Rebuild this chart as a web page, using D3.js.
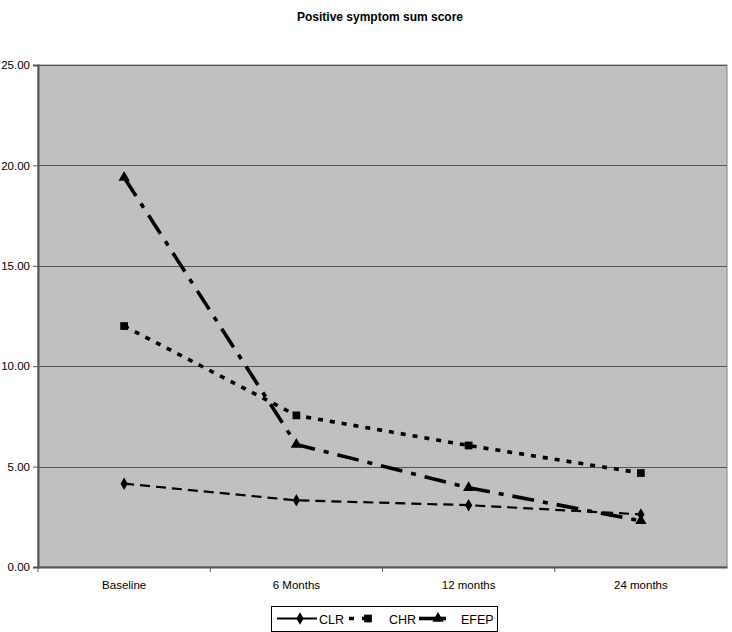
<!DOCTYPE html>
<html>
<head>
<meta charset="utf-8">
<script src="https://cdn.jsdelivr.net/npm/d3@7"></script>
<style>
  body { margin: 0; background: #fff; }
  text { font-family: "Liberation Sans", Arial, sans-serif; }
</style>
</head>
<body>
<svg id="chart" width="732" height="632"></svg>
<script>
const categories = ["Baseline", "6 Months", "12 months", "24 months"];
const clr = [4.15, 3.32, 3.08, 2.62];
const chr = [12.0, 7.55, 6.05, 4.68];
const efep = [19.4, 6.1, 3.95, 2.3];
const yTicks = [0, 5, 10, 15, 20, 25];

const series = [
  { name: "CLR", values: clr, dash: "10,6", width: 2.2, symbol: d3.symbolDiamond, size: 45,
    lg: { x1: 6, x2: 46, dash: null, mark: 29, text: 48 } },
  { name: "CHR", values: chr, dash: "5,7", width: 3.6, symbol: d3.symbolSquare, size: 60,
    lg: { x1: 78, x2: 104, dash: "5,8", mark: 97, text: 118 } },
  { name: "EFEP", values: efep, dash: "22,9,5,9", width: 3.6, symbol: d3.symbolTriangle, size: 55,
    lg: { x1: 148, x2: 175, dash: null, mark: 167, text: 190 } }
];

const svg = d3.select("#chart");
const margin = { left: 38, right: 5, top: 65, bottom: 65 };
const width = 732, height = 632;

const x = d3.scaleBand().domain(categories)
  .range([margin.left, width - margin.right]);
const y = d3.scaleLinear().domain([0, 25])
  .range([height - margin.bottom, margin.top]);

// title
svg.append("text")
  .attr("x", 380).attr("y", 21)
  .attr("text-anchor", "middle")
  .style("font-size", "12px").style("font-weight", "bold")
  .text("Positive symptom sum score");

// plot area
svg.append("rect")
  .attr("x", margin.left).attr("y", margin.top)
  .attr("width", width - margin.left - margin.right)
  .attr("height", y(0) - y(25))
  .attr("fill", "#c0c0c0")
  .attr("stroke", "#808080").attr("stroke-width", 1);

// gridlines
svg.append("g").selectAll("line")
  .data(yTicks.filter(d => d > 0))
  .join("line")
  .attr("x1", margin.left).attr("x2", width - margin.right)
  .attr("y1", d => Math.round(y(d)) + 0.5).attr("y2", d => Math.round(y(d)) + 0.5)
  .attr("stroke", "#555").attr("stroke-width", 1);

// y axis
const yAxis = svg.append("g")
  .attr("transform", `translate(${margin.left},0)`)
  .call(d3.axisLeft(y).tickValues(yTicks).tickFormat(d3.format(".2f")).tickSize(5).tickPadding(3));
yAxis.select(".domain").attr("stroke", "#555").attr("stroke-width", 2);
yAxis.selectAll(".tick line").attr("stroke", "#555");
yAxis.selectAll("text").style("font-size", "11.5px").attr("fill", "#000");

// x axis
const xAxis = svg.append("g")
  .attr("transform", `translate(0,${y(0)})`)
  .call(d3.axisBottom(x).tickSize(0).tickPadding(14));
xAxis.select(".domain").attr("stroke", "#555").attr("stroke-width", 2);
xAxis.selectAll("text").style("font-size", "11.5px").attr("fill", "#000");
// category boundary ticks
svg.append("g").selectAll("line")
  .data(categories)
  .join("line")
  .attr("x1", d => x(d)).attr("x2", d => x(d))
  .attr("y1", y(0)).attr("y2", y(0) + 5)
  .attr("stroke", "#555");

const line = d3.line()
  .x((d, i) => x(categories[i]) + x.bandwidth() / 2)
  .y(d => y(d));

series.forEach(s => {
  svg.append("path")
    .datum(s.values)
    .attr("d", line)
    .attr("fill", "none")
    .attr("stroke", "#000")
    .attr("stroke-width", s.width)
    .attr("stroke-dasharray", s.dash);
  svg.append("g").selectAll("path")
    .data(s.values)
    .join("path")
    .attr("transform", (d, i) => `translate(${x(categories[i]) + x.bandwidth() / 2},${y(d)})`)
    .attr("d", d3.symbol().type(s.symbol).size(s.size))
    .attr("fill", "#000");
});

// legend
const lg = svg.append("g").attr("transform", "translate(271,606)");
lg.append("rect")
  .attr("x", 0.5).attr("y", 0.5).attr("width", 226).attr("height", 25)
  .attr("fill", "#fff").attr("stroke", "#000");
series.forEach(s => {
  const g = lg.append("g").attr("transform", "translate(0,12.5)");
  g.append("line")
    .attr("x1", s.lg.x1).attr("x2", s.lg.x2)
    .attr("stroke", "#000").attr("stroke-width", s.width)
    .attr("stroke-dasharray", s.lg.dash);
  g.append("path")
    .attr("transform", `translate(${s.lg.mark},0)`)
    .attr("d", d3.symbol().type(s.symbol).size(s.size))
    .attr("fill", "#000");
  g.append("text")
    .attr("x", s.lg.text).attr("y", 5)
    .style("font-size", "12.5px")
    .text(s.name);
});
</script>
</body>
</html>
